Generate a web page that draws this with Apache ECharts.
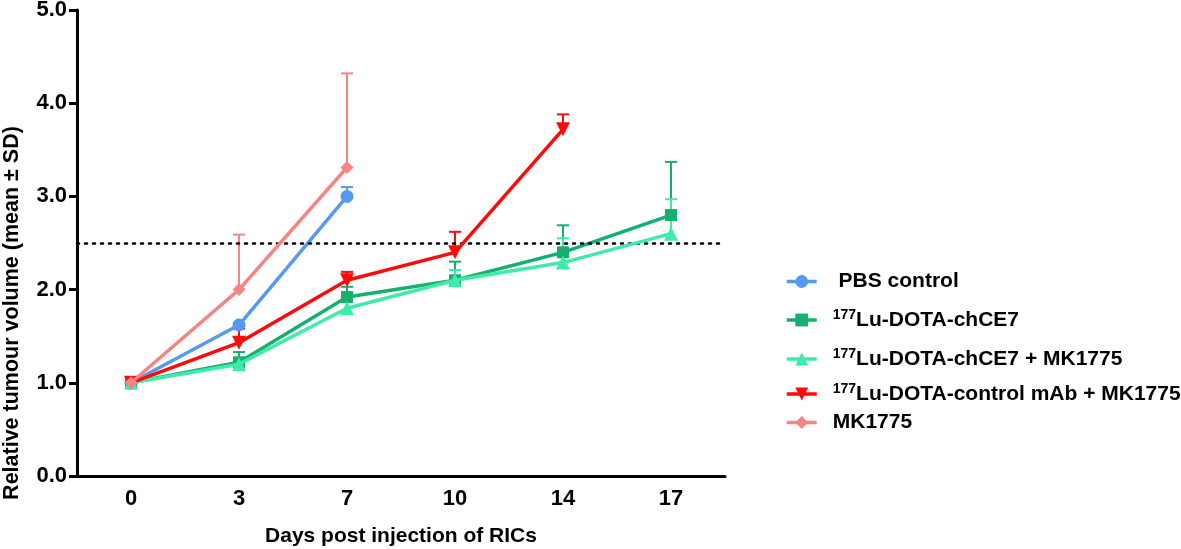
<!DOCTYPE html>
<html>
<head>
<meta charset="utf-8">
<script src="https://cdn.jsdelivr.net/npm/echarts@6/dist/echarts.min.js"></script>
<style>html,body{margin:0;padding:0;background:#fff}#c{width:1181px;height:549px}</style>
</head>
<body>
<div id="c"></div>
<script>
// ---- data ----
var days = ['0', '3', '7', '10', '14', '17'];
var yTicks = [0, 1, 2, 3, 4, 5];
var threshold = 2.5;

var pbsMean   = [1.0, 1.62, 3.0, null, null, null];
var pbsSD     = [0, 0.02, 0.10, null, null, null];
var chce7Mean = [1.0, 1.22, 1.92, 2.10, 2.40, 2.80];
var chce7SD   = [0, 0.11, 0.11, 0.20, 0.29, 0.57];
var chce7MkMean = [1.0, 1.20, 1.80, 2.10, 2.29, 2.60];
var chce7MkSD   = [0, 0.05, 0.12, 0.11, 0.26, 0.37];
var ctrlMean  = [1.0, 1.43, 2.10, 2.40, 3.72, null];
var ctrlSD    = [0, 0.15, 0.09, 0.22, 0.16, null];
var mkMean    = [1.0, 2.0, 3.31, null, null, null];
var mkSD      = [0, 0.59, 1.01, null, null, null];

var names = [' PBS control', '177Lu-DOTA-chCE7', '177Lu-DOTA-chCE7 + MK1775', '177Lu-DOTA-control mAb + MK1775', 'MK1775'];
// ---- styling ----
var colors = ['#5599F0', '#15B06E', '#3EEBAA', '#FF0A0A', '#F58585'];
var symbols = ['circle', 'rect', 'triangle', 'path://M0,0 L10,0 L5,10 Z', 'diamond'];
var symSizes = [13, 12, 14, 14, 13];
var means = [pbsMean, chce7Mean, chce7MkMean, ctrlMean, mkMean];
var sds = [pbsSD, chce7SD, chce7MkSD, ctrlSD, mkSD];
var legendY = [283, 320, 359, 394, 424];

var FONT = 'Liberation Sans, Arial, sans-serif';

function toData(arr) { return arr.map(function (v) { return v == null ? '-' : v; }); }

var series = [];
// error bars (drawn under markers)
means.forEach(function (m, k) {
  var d = [];
  m.forEach(function (v, i) { if (v != null && sds[k][i] > 0) d.push([i, v, sds[k][i]]); });
  series.push({
    type: 'custom', name: names[k] + '_err', z: 1, silent: true,
    renderItem: function (params, api) {
      var x = api.value(0), mean = api.value(1), sd = api.value(2);
      var p0 = api.coord([x, mean]);
      var p1 = api.coord([x, mean + sd]);
      var hw = 6;
      return {
        type: 'group',
        children: [
          { type: 'line', shape: { x1: p0[0], y1: p0[1], x2: p1[0], y2: p1[1] }, style: { stroke: colors[k], lineWidth: 2 } },
          { type: 'line', shape: { x1: p1[0] - hw, y1: p1[1], x2: p1[0] + hw, y2: p1[1] }, style: { stroke: colors[k], lineWidth: 2 } }
        ]
      };
    },
    data: d
  });
});
means.forEach(function (m, k) {
  var s = {
    type: 'line', name: names[k], data: toData(m), z: 3 + k,
    symbol: symbols[k], symbolSize: symSizes[k], showAllSymbol: true,
    lineStyle: { color: colors[k], width: 3.5 },
    itemStyle: { color: colors[k] },
    connectNulls: false, animation: false
  };
  if (k === 0) {
    s.markLine = {
      silent: true, symbol: 'none', label: { show: false },
      lineStyle: { color: '#000', type: [2, 6], width: 2.5, cap: 'round' },
      data: [{ yAxis: threshold }]
    };
  }
  series.push(s);
});

var legends = names.map(function (n, k) {
  return {
    data: [n], left: 785, top: legendY[k] - 12, padding: 0,
    itemWidth: 30, itemHeight: 16, selectedMode: false,
    lineStyle: { width: 3.5 },
    formatter: function (name) {
      if (name.indexOf('177') === 0) return '{sp|}{sup|177}{main|' + name.slice(3) + '}';
      return '{sp|}{main|' + name + '}';
    },
    textStyle: {
      rich: {
        sp: { width: 11 },
        sup: { fontSize: 14, fontWeight: 'bold', fontFamily: FONT, color: '#000', verticalAlign: 'top', lineHeight: 14 },
        main: { fontSize: 21, fontWeight: 'bold', fontFamily: FONT, color: '#000', lineHeight: 24 }
      }
    }
  };
});

var chart = echarts.init(document.getElementById('c'));
chart.setOption({
  animation: false,
  backgroundColor: '#fff',
  grid: { left: 77, right: 456, top: 10, bottom: 73, containLabel: false, outerBoundsMode: 'none' },
  legend: legends,
  xAxis: {
    type: 'category', data: days, boundaryGap: true,
    name: 'Days post injection of RICs', nameLocation: 'middle', nameGap: 50,
    nameTextStyle: { fontSize: 21, fontWeight: 'bold', color: '#000', fontFamily: FONT },
    axisLine: { lineStyle: { color: '#000', width: 3 } },
    axisTick: { alignWithLabel: true, length: 8, lineStyle: { color: '#000', width: 3 } },
    axisLabel: { fontSize: 22, fontWeight: 'bold', color: '#000', fontFamily: FONT, margin: 12 },
    splitLine: { show: false }
  },
  yAxis: {
    type: 'value', min: yTicks[0], max: yTicks[yTicks.length - 1], interval: 1,
    name: 'Relative tumour volume (mean \u00b1 SD)', nameLocation: 'middle', nameGap: 54,
    nameTextStyle: { fontSize: 21.5, fontWeight: 'bold', color: '#000', fontFamily: FONT, padding: [0, 140, 0, 0] },
    axisLine: { show: true, lineStyle: { color: '#000', width: 3 } },
    axisTick: { show: true, length: 8, lineStyle: { color: '#000', width: 3 } },
    axisLabel: { fontSize: 22, fontWeight: 'bold', color: '#000', fontFamily: FONT, margin: 10,
      formatter: function (v) { return v.toFixed(1); } },
    splitLine: { show: false }
  },
  series: series
});
</script>
</body>
</html>
